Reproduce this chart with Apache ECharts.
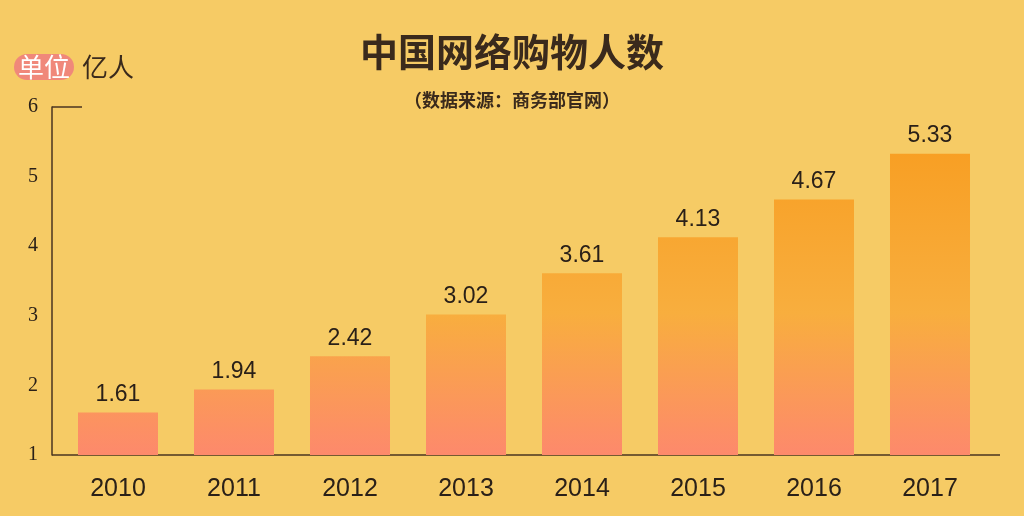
<!DOCTYPE html><html><head><meta charset="utf-8"><script src="https://cdn.jsdelivr.net/npm/echarts@6/dist/echarts.min.js"></script>
<style>html,body{margin:0;padding:0;background:#F6CB65}#c{width:1024px;height:516px}</style></head><body><div id="c"></div><script>
const years=['2010','2011','2012','2013','2014','2015','2016','2017'];
const users=[1.61,1.94,2.42,3.02,3.61,4.13,4.67,5.33];
const yTicks=[1,2,3,4,5,6];
const font='"Noto Sans CJK SC","Liberation Sans",sans-serif';
const ch=echarts.init(document.getElementById('c'));
ch.setOption({
backgroundColor:'#F6CB65',
title:[{text:'中国网络购物人数',left:'center',top:28,textStyle:{fontFamily:font,fontSize:38,fontWeight:'bold',color:'#3a2a1c'}},
{text:'（数据来源：商务部官网）',left:'center',top:86,textStyle:{fontFamily:font,fontSize:18,fontWeight:'bold',color:'#3a2a1c'}}],
graphic:[
{type:'text',left:14,top:54,style:{text:'单位',font:'26px '+font,fill:'#fff',backgroundColor:'#F0887A',borderRadius:14,padding:[0,4]}},
{type:'text',left:82,top:54,style:{text:'亿人',font:'26px '+font,fill:'#3a2a1c'}},
{type:'line',shape:{x1:52,y1:455,x2:1000,y2:455},style:{stroke:'#4a3520',lineWidth:1.5}},
{type:'line',shape:{x1:52,y1:107,x2:82,y2:107},style:{stroke:'#4a3520',lineWidth:1.5}}
],
grid:{left:60,right:36,top:107,bottom:61},
xAxis:{type:'category',data:years,axisLine:{show:false},axisTick:{show:false},axisLabel:{fontSize:25,color:'#2a2018',margin:22,fontFamily:'Liberation Sans'}},
yAxis:{type:'value',min:yTicks[0],max:yTicks[yTicks.length-1],interval:1,offset:8,splitLine:{show:false},axisLine:{show:true,lineStyle:{color:'#4a3520',width:1.5}},axisTick:{show:false},axisLabel:{fontSize:20,color:'#2a2018',margin:14,fontFamily:'Liberation Serif'}},
series:[{type:'bar',data:users,barWidth:80,
itemStyle:{color:new echarts.graphic.LinearGradient(0,140,0,455,[{offset:0,color:'#F89E22'},{offset:0.55,color:'#F8AE3E'},{offset:1,color:'#FD896C'}],true)},
label:{show:true,position:'top',distance:6,fontSize:23,color:'#2a2018',fontFamily:'Liberation Sans'}}]
});
</script></body></html>
